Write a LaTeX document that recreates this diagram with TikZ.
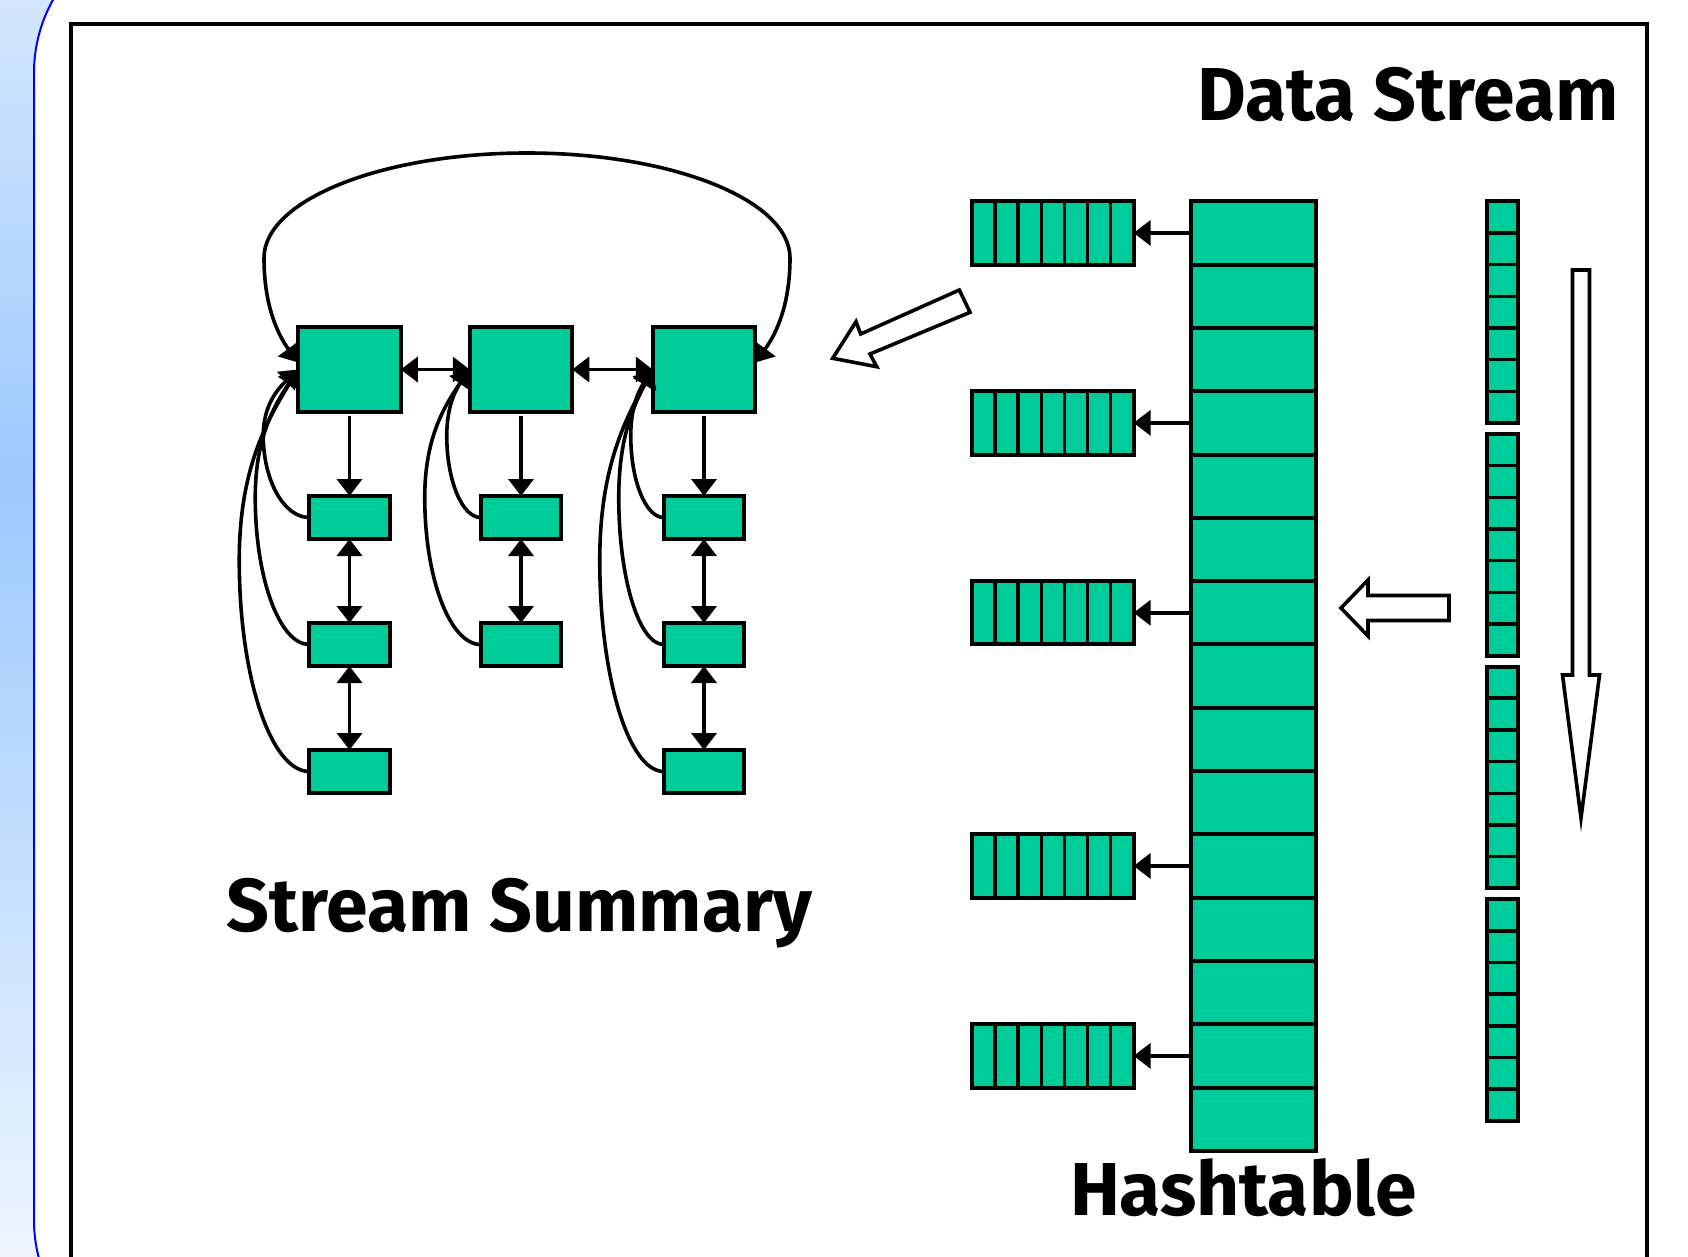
\documentclass[tikz,border=0pt]{standalone}
\usepackage{fontspec}
\setmainfont{Fira Sans}
\usetikzlibrary{arrows.meta,calc}

\definecolor{ssgreen}{HTML}{00CC99}
\definecolor{bandtop}{HTML}{D4E6FD}
\definecolor{bandmid}{HTML}{9CC9FE}
\definecolor{bandbot}{HTML}{EEF5FE}
\definecolor{slideblue}{HTML}{0000FF}

% back link from a list entry up to its bucket head:
% #1 entry node, #2 head node, #3/#4 offset of the leftmost point, #5/#6 offset from there to the head
\newcommand{\uplink}[6]{%
  \pgfmathsetmacro\ctla{-0.55*#3}\pgfmathsetmacro\ctlb{0.55*#4}%
  \pgfmathsetmacro\ctlc{-0.45*#6}\pgfmathsetmacro\ctld{-0.6*#5}\pgfmathsetmacro\ctle{0.3*#6}%
  \draw[linkline,-{Triangle[length=17pt,width=25pt]}] (#1.west)
    .. controls +(\ctla,0) and +(0,\ctlb) .. ($(#1.west)+(-#3,-#4)$)
    .. controls +(0,\ctlc) and +(\ctld,\ctle) .. (#2.west);}

\begin{document}
\begin{tikzpicture}[x=1pt,y=-1pt,
  cellbox/.style={draw,line width=4pt,fill=ssgreen,inner sep=0pt,outer sep=0pt},
  bigbox/.style={cellbox,minimum width=102.5pt,minimum height=85pt},
  smallbox/.style={cellbox,minimum width=80.5pt,minimum height=43pt},
  hashcell/.style={cellbox,minimum width=125pt,minimum height=63.3pt},
  bucket/.style={cellbox,minimum width=161.6pt,minimum height=63.3pt},
  streamgroup/.style={cellbox,minimum width=31pt,minimum height=221.8pt},
  divider/.style={line width=3.5pt},
  linkline/.style={line width=3.6pt},
  hollowarrow/.style={draw,line width=3.6pt,fill=white,line join=miter},
  title/.style={font=\bfseries\fontsize{75}{80}\selectfont,anchor=base,inner sep=0pt},
  >={Triangle[length=17pt,width=25pt]}]

\clip (0,0) rectangle (1688,1257);
\fill[white] (0,0) rectangle (1688,1257);

% slide background: blue band on the left, white slide with rounded corner
\shade[top color=bandtop,bottom color=bandmid] (0,0) rectangle (200,480);
\shade[top color=bandmid,bottom color=bandbot] (0,480) rectangle (200,1257);
\draw[slideblue,line width=2pt,fill=white,rounded corners=150pt] (34,-77) rectangle (1900,1370);

% frame
\draw[line width=3.8pt] (71,24) rectangle (1647,1320);

% ---------------- stream summary ----------------
\node[bigbox] (b1) at (349.5,369.5) {};
\node[bigbox] (b2) at (521,369.5) {};
\node[bigbox] (b3) at (704,369.5) {};

\node[smallbox] (s11) at (349.5,517.5) {};
\node[smallbox] (s12) at (349.5,644.5) {};
\node[smallbox] (s13) at (349.5,771.5) {};
\node[smallbox] (s21) at (521,517.5) {};
\node[smallbox] (s22) at (521,644.5) {};
\node[smallbox] (s31) at (704,517.5) {};
\node[smallbox] (s32) at (704,644.5) {};
\node[smallbox] (s33) at (704,771.5) {};

% head-to-first-entry pointers
\foreach \h/\e in {b1/s11,b2/s21,b3/s31}
  \draw[linkline,->,shorten <=4pt] (\h.south) -- (\e.north);
% doubly linked entries
\foreach \a/\b in {s11/s12,s12/s13,s21/s22,s31/s32,s32/s33}
  \draw[linkline,<->] (\a.south) -- (\b.north);
% doubly linked heads
\draw[linkline,<->] (b1.east) -- (b2.west);
\draw[linkline,<->] (b2.east) -- (b3.west);

% entries point back to their head
\uplink{s11}{b1}{46}{82}{35}{66}
\uplink{s12}{b1}{54}{147}{43}{128}
\uplink{s13}{b1}{70}{211}{59}{190}
\uplink{s21}{b2}{34}{82}{23}{66}
\uplink{s22}{b2}{56}{147}{45}{128}
\uplink{s31}{b3}{33}{82}{22}{66}
\uplink{s32}{b3}{45}{147}{34}{128}
\uplink{s33}{b3}{64}{211}{53}{190}

% circular link between last and first head
\draw[linkline,<->] ([yshift=7pt]b3.east)
  .. controls +(22,-30) and +(0,45) .. (790,258)
  .. controls (790,200) and (672,153) .. (527,153)
  .. controls (382,153) and (264,200) .. (264,258)
  .. controls +(0,45) and +(-22,-30) .. ([yshift=7pt]b1.west);

\node[title] (sslabel) at (519.5,931) {Stream Summary};

% ---------------- hashtable ----------------
\foreach \i in {1,...,15}
  \node[hashcell] (h\i) at (1253,{201.3+(\i-0.5)*63.3}) {};

\foreach \j/\c in {1/1,2/4,3/7,4/11,5/14}{
  \node[bucket] (bk\j) at (1052.8,{201.3+(\c-0.5)*63.3}) {};
  \foreach \k in {1,...,6}
    \draw[divider] ($(bk\j.north west)+(\k*23.086,0)$) -- ($(bk\j.south west)+(\k*23.086,0)$);
  \draw[linkline,->] (h\c.west) -- (bk\j.east);
}

\node[title] (htlabel) at (1243.5,1215) {Hashtable};

% ---------------- data stream ----------------
\foreach \g in {1,...,4}{
  \node[streamgroup] (sg\g) at (1502.5,{201.3+110.9+(\g-1)*232.6}) {};
  \foreach \k in {1,...,6}
    \draw[divider] ($(sg\g.north west)+(0,\k*31.686)$) -- ($(sg\g.north east)+(0,\k*31.686)$);
}

\node[title] (dslabel) at (1408,121) {Data Stream};

% flow arrows
\draw[hollowarrow] (1572.5,270) -- (1589.5,270) -- (1589.5,675) -- (1599.5,675)
  -- (1581,818) -- (1562.5,675) -- (1572.5,675) -- cycle;
\draw[hollowarrow] (1449,595.5) -- (1368,595.5) -- (1368,580) -- (1341,608)
  -- (1368,636) -- (1368,620.5) -- (1449,620.5) -- cycle;
\draw[hollowarrow] (832.7,358.3) -- (876.7,366.7) -- (870,354) -- (970,312.3)
  -- (959.3,290) -- (860.7,334) -- (856,321.7) -- cycle;
\end{tikzpicture}
\end{document}
